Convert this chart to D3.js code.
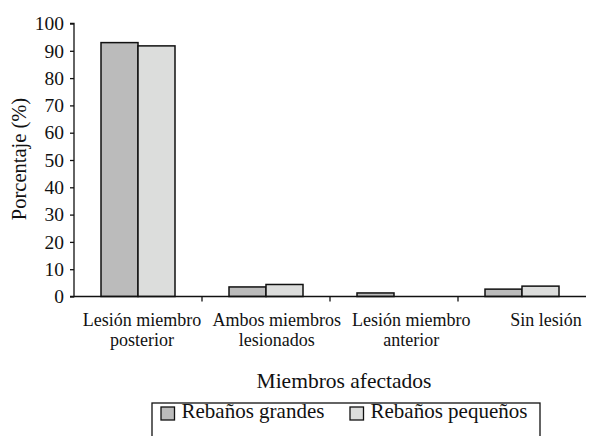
<!DOCTYPE html>
<html><head><meta charset="utf-8">
<script src="https://cdn.jsdelivr.net/npm/d3@7"></script>
</head><body>
<script>
const categories = [["Lesión miembro","posterior"],["Ambos miembros","lesionados"],["Lesión miembro","anterior"],["Sin lesión"]];
const seriesNames = ["Rebaños grandes","Rebaños pequeños"];
const grandes = [93, 3.5, 1.3, 2.7];
const pequenos = [91.8, 4.4, 0, 3.8];
const yTicks = [0,10,20,30,40,50,60,70,80,90,100];
const colors = ["#bbbbbb","#dcdddc"];

const W=612,H=436;
const FONT="'Liberation Serif','Times New Roman',Tinos,Times,serif";
d3.select("body").style("margin","0px").style("font-family",FONT);
const svg=d3.select("body").append("svg").attr("width",W).attr("height",H).style("display","block").style("font-family",FONT);
const x0=74,x1=586,yTop=23.5,yBot=296.5;
const x=d3.scaleBand().domain(d3.range(categories.length)).range([x0,x1]).paddingInner(0).paddingOuter(0);
const xs=d3.scaleBand().domain([0,1]).range([27,x.bandwidth()-27]);
const y=d3.scaleLinear().domain([0,100]).range([yBot,yTop]);
// label positions (labels in the original are spread a little wider than the bars)
const xl=d3.scalePoint().domain(d3.range(categories.length)).range([142,546]);
const series=[grandes,pequenos];

series.forEach((vals,si)=>{
  const data=vals.map((v,i)=>({v,i})).filter(d=>d.v>0);
  svg.append("g").selectAll("rect").data(data).join("rect")
    .attr("x",d=>x(d.i)+xs(si))
    .attr("width",xs.bandwidth())
    .attr("y",d=>y(d.v))
    .attr("height",d=>y(0)-y(d.v))
    .attr("fill",colors[si]).attr("stroke","#111").attr("stroke-width",1.5);
});

// y axis
const ya=svg.append("g").attr("transform",`translate(${x0},0)`)
  .call(d3.axisLeft(y).tickValues(yTicks).tickSize(4).tickPadding(6));
ya.attr("font-family",FONT).style("font-family",FONT);
ya.select(".domain").attr("stroke","#111").attr("stroke-width",1.3).attr("d",`M-4,${yTop}H0V${yBot}H-4`);
ya.selectAll(".tick line").attr("stroke","#111").attr("stroke-width",1.3);
ya.selectAll("text").style("font-family",FONT).style("font-size","19.5px").attr("fill","#111");

// x axis
const xa=svg.append("g");
xa.append("line").attr("x1",x0).attr("x2",x1).attr("y1",yBot).attr("y2",yBot).attr("stroke","#111").attr("stroke-width",1.3);
xa.selectAll("line.t").data(d3.range(1,categories.length)).join("line").attr("class","t")
  .attr("x1",d=>x(d)).attr("x2",d=>x(d)).attr("y1",yBot).attr("y2",yBot+5).attr("stroke","#111").attr("stroke-width",1.3);
const lab=xa.selectAll("text").data(categories).join("text")
  .style("font-family",FONT).style("font-size","18px").attr("fill","#111").attr("text-anchor","middle")
  .attr("transform",(d,i)=>`translate(${xl(i)},326)`);
lab.selectAll("tspan").data(d=>d).join("tspan").attr("x",0).attr("dy",(d,i)=>i?20:0).text(d=>d);

svg.append("text").attr("x",(xl(0)+xl(categories.length-1))/2).attr("y",388).attr("text-anchor","middle")
  .style("font-family",FONT).style("font-size","21.5px").attr("fill","#111").text("Miembros afectados");
svg.append("text").attr("transform","translate(26,159) rotate(-90)").attr("text-anchor","middle")
  .style("font-family",FONT).style("font-size","20.5px").attr("fill","#111").text("Porcentaje (%)");

// legend
const lg=svg.append("g");
lg.append("rect").attr("x",152).attr("y",403).attr("width",388).attr("height",40).attr("fill","none").attr("stroke","#111").attr("stroke-width",1.3);
const items=[{n:seriesNames[0],c:colors[0],x:161},{n:seriesNames[1],c:colors[1],x:350}];
items.forEach(it=>{
  lg.append("rect").attr("x",it.x).attr("y",407).attr("width",13.5).attr("height",13).attr("fill",it.c).attr("stroke","#111").attr("stroke-width",1.3);
  lg.append("text").attr("x",it.x+20.5).attr("y",418).style("font-family",FONT).style("font-size","21px").attr("fill","#111").text(it.n);
});
</script>
</body></html>
